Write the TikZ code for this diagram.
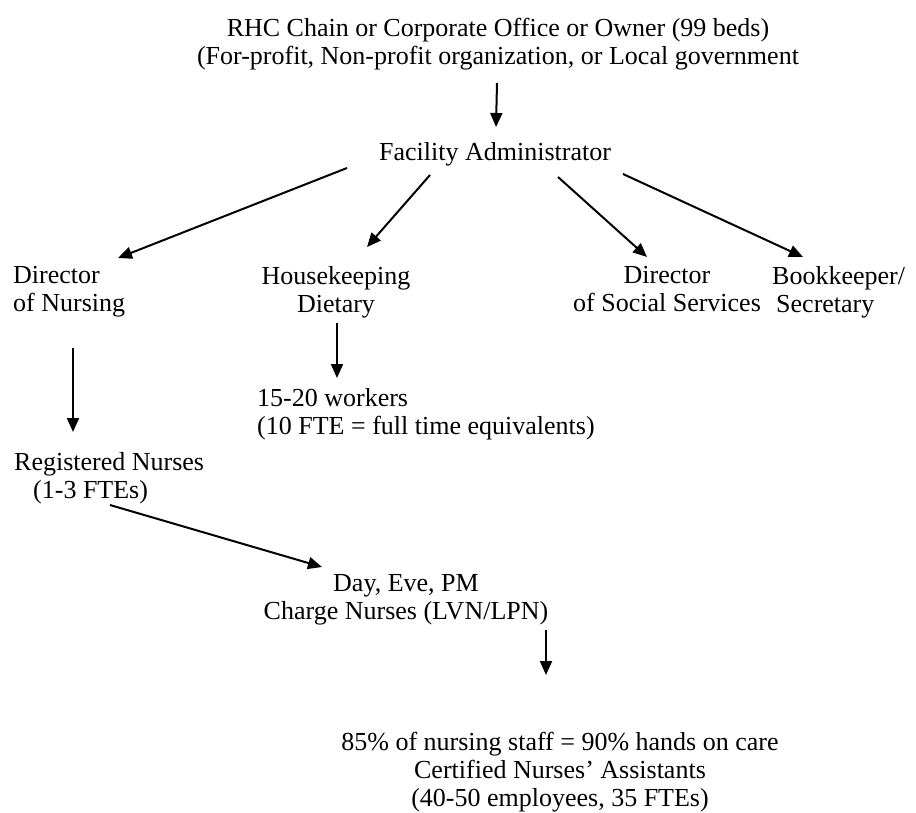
\documentclass[tikz,border=0pt]{standalone}
\usepackage{fontspec}
\setmainfont{Liberation Serif}
\usetikzlibrary{calc,arrows.meta}

\begin{document}
\begin{tikzpicture}[x=1pt,y=-1pt,
        lbl/.style={inner sep=0pt,align=center,font=\fontsize{26}{28}\selectfont},
        arr/.style={line width=2pt,-{Triangle[length=14pt,width=12pt]}}]
        \useasboundingbox (0,0) rectangle (916,812);
        \node [lbl] (owner) at (498,44) {RHC Chain or Corporate Office or Owner (99 beds)\\(For-profit, Non-profit organization, or Local government};
        \node [lbl] (fac) at (495,154) {Facility Administrator};
        \node [lbl,align=left,anchor=west] (don) at (13,292) {Director\\of Nursing};
        \node [lbl] (hk) at (336,292) {Housekeeping\\Dietary};
        \node [lbl] (dss) at (667,289) {Director\\of Social Services};
        \node [lbl,align=left,anchor=west] (bk) at (772,292) {Bookkeeper/\\\hspace*{4pt}Secretary};
        \node [lbl,align=left,anchor=west] (wk) at (257,414) {15-20 workers\\(10 FTE = full time equivalents)};
        \node [lbl,align=left,anchor=west] (rn) at (14,478) {Registered Nurses\\\hspace*{19pt}(1-3 FTEs)};
        \node [lbl] (cn) at (406,600) {Day, Eve, PM\\Charge Nurses (LVN/LPN)};
        \node [lbl] (cna) at (560,772) {85\% of nursing staff = 90\% hands on care\\Certified Nurses’ Assistants\\(40-50 employees, 35 FTEs)};
        \draw [arr] ($(owner)+(-1,39)$) -- ($(fac)+(1,-27)$);
        \draw [arr] ($(fac)+(-148,14)$) -- ($(don.west)+(105,-34)$);
        \draw [arr] ($(fac)+(-65,21)$) -- ($(hk)+(31,-45)$);
        \draw [arr] ($(fac)+(63,23)$) -- ($(dss)+(-20,-32)$);
        \draw [arr] ($(fac)+(128,20)$) -- ($(bk.west)+(31,-35)$);
        \draw [arr] ($(hk)+(1,31)$) -- ($(wk.west)+(80,-36)$);
        \draw [arr] ($(don.west)+(60,56)$) -- ($(rn.west)+(59,-46)$);
        \draw [arr] ($(rn.west)+(96,27)$) -- ($(cn)+(-84,-33)$);
        \draw [arr] ($(cn)+(140,30)$) -- ($(cna)+(-14,-97)$);
        % \draw [red] (owner.south west) rectangle (owner.north east);
\end{tikzpicture}
\end{document}
